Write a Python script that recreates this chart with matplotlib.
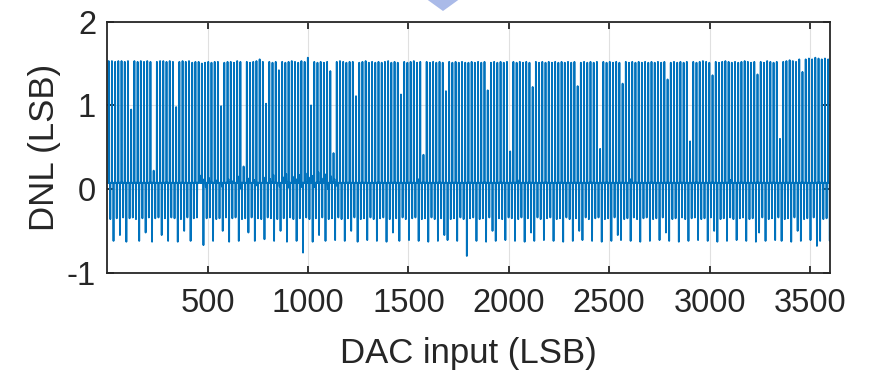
import numpy as np
import matplotlib
matplotlib.use('Agg')
import matplotlib.pyplot as plt
from matplotlib.patches import Polygon

plt.rcParams['font.family'] = ['Liberation Sans', 'DejaVu Sans']
plt.rcParams['axes.unicode_minus'] = False

# DAC codes shown on the x axis
n_codes = 3600
baseline = 0.075

# positive DNL spikes, one per 16-code segment (LSB)
up_first = 7
up_step = 16
up_vals = [
    1.53, 1.53, 1.52, 1.53, 1.53, 1.52, 1.53, 0.95, 1.53, 1.52, 1.53, 1.52, 1.53, 1.52,
    0.22, 1.52, 1.53, 1.53, 1.52, 1.53, 1.52, 0.98, 1.52, 1.53, 1.52, 1.53, 1.51, 1.52,
    1.52, 1.50, 1.51, 1.52, 1.51, 1.52, 1.52, 0.99, 1.51, 1.52, 1.52, 1.51, 1.53, 1.52,
    0.27, 1.52, 1.51, 1.52, 1.53, 1.55, 1.52, 1.02, 1.52, 1.51, 1.52, 1.42, 1.52, 1.51,
    1.52, 1.53, 1.52, 1.51, 1.53, 1.52, 1.57, 1.00, 1.52, 1.51, 1.52, 1.51, 1.52, 1.41,
    0.43, 1.52, 1.53, 1.52, 1.51, 1.52, 1.52, 1.11, 1.51, 1.52, 1.53, 1.51, 1.52, 1.51,
    1.52, 1.51, 1.52, 1.53, 1.51, 1.52, 1.51, 1.13, 1.52, 1.51, 1.52, 1.53, 1.51, 1.52,
    0.41, 1.52, 1.51, 1.52, 1.51, 1.52, 1.51, 1.17, 1.52, 1.51, 1.52, 1.51, 1.52, 1.51,
    1.51, 1.52, 1.51, 1.52, 1.51, 1.52, 1.18, 1.51, 1.52, 1.51, 1.52, 1.51, 1.52, 0.45,
    1.52, 1.51, 1.52, 1.51, 1.52, 1.51, 1.22, 1.52, 1.51, 1.52, 1.51, 1.52, 1.51, 1.52,
    1.51, 1.52, 1.51, 1.52, 1.51, 1.52, 1.23, 1.51, 1.52, 1.51, 1.52, 1.51, 1.52, 0.48,
    1.52, 1.51, 1.52, 1.51, 1.52, 1.51, 1.26, 1.52, 1.51, 1.52, 1.51, 1.52, 1.51, 1.52,
    1.51, 1.52, 1.51, 1.52, 1.51, 1.52, 1.31, 1.51, 1.52, 1.51, 1.52, 1.51, 1.52, 0.57,
    1.52, 1.51, 1.52, 1.53, 1.52, 1.51, 1.36, 1.52, 1.51, 1.52, 1.53, 1.52, 1.51, 1.52,
    1.51, 1.52, 1.53, 1.52, 1.51, 1.52, 1.37, 1.52, 1.51, 1.53, 1.52, 1.51, 1.52, 0.60,
    1.52, 1.53, 1.54, 1.53, 1.52, 1.55, 1.40, 1.55, 1.56, 1.55, 1.57, 1.56, 1.55, 1.56,
    1.55,
]

# negative DNL spikes, one per 16-code segment (LSB)
down_first = 15
down_step = 16
down_vals = [
    -0.36, -0.62, -0.35, -0.55, -0.34, -0.63, -0.35, -0.34, -0.36, -0.62, -0.35, -0.52, -0.34, -0.63,
    -0.35, -0.34, -0.55, -0.35, -0.62, -0.34, -0.35, -0.63, -0.36, -0.50, -0.34, -0.62, -0.35, -0.34,
    -0.82, -0.67, -0.35, -0.34, -0.62, -0.36, -0.35, -0.50, -0.34, -0.63, -0.35, -0.34, -0.62, -0.36,
    -0.35, -0.52, -0.34, -0.62, -0.35, -0.36, -0.60, -0.34, -0.35, -0.62, -0.36, -0.50, -0.35, -0.63,
    -0.34, -0.36, -0.62, -0.35, -0.76, -0.34, -0.36, -0.63, -0.35, -0.55, -0.34, -0.62, -0.36, -0.35,
    -0.61, -0.34, -0.36, -0.62, -0.35, -0.50, -0.34, -0.63, -0.36, -0.35, -0.61, -0.34, -0.36, -0.62,
    -0.35, -0.34, -0.63, -0.36, -0.52, -0.35, -0.62, -0.34, -0.36, -0.61, -0.35, -0.34, -0.62, -0.36,
    -0.35, -0.63, -0.34, -0.36, -0.62, -0.35, -0.55, -0.61, -0.36, -0.35, -0.62, -0.34, -0.36, -0.80,
    -0.35, -0.34, -0.62, -0.36, -0.35, -0.63, -0.34, -0.50, -0.62, -0.35, -0.36, -0.61, -0.34, -0.35,
    -0.62, -0.36, -0.34, -0.63, -0.35, -0.52, -0.62, -0.34, -0.36, -0.61, -0.35, -0.34, -0.62, -0.36,
    -0.35, -0.63, -0.34, -0.36, -0.62, -0.35, -0.50, -0.61, -0.34, -0.36, -0.62, -0.35, -0.34, -0.63,
    -0.36, -0.35, -0.62, -0.34, -0.55, -0.61, -0.36, -0.35, -0.62, -0.34, -0.36, -0.63, -0.35, -0.34,
    -0.62, -0.36, -0.35, -0.61, -0.34, -0.52, -0.62, -0.36, -0.35, -0.63, -0.34, -0.36, -0.62, -0.35,
    -0.34, -0.61, -0.36, -0.35, -0.62, -0.34, -0.50, -0.63, -0.36, -0.35, -0.62, -0.34, -0.36, -0.61,
    -0.35, -0.34, -0.62, -0.36, -0.35, -0.63, -0.52, -0.34, -0.62, -0.36, -0.35, -0.61, -0.34, -0.62,
    -0.36, -0.35, -0.63, -0.34, -0.50, -0.62, -0.36, -0.35, -0.61, -0.34, -0.68, -0.62, -0.36, -0.35,
    -0.62,
]

# small ripple on the flat part (code, DNL)
ripple_codes = [463, 475, 491, 507, 539, 571, 603, 619, 651, 667, 699, 731, 747, 779,
                811, 827, 859, 875, 891, 907, 923, 939, 955, 971, 987, 1003, 1019,
                1035, 1051, 1067, 1083, 1099, 1115, 1131, 1147, 1547, 2043, 2603, 3107]
ripple_vals = [0.16, 0.12, 0.02, 0.13, 0.11, 0.03, 0.12, 0.10, 0.15, 0.00, 0.13, 0.11, 0.04, 0.14,
               0.12, 0.17, 0.03, 0.14, 0.18, 0.01, 0.15, 0.12, 0.17, 0.02, 0.19, 0.14, 0.16,
               0.02, 0.20, 0.13, 0.18, 0.00, 0.15, 0.12, 0.03, 0.12, 0.11, 0.12, 0.11]

xticks = [500, 1000, 1500, 2000, 2500, 3000, 3500]
yticks = [-1, 0, 1, 2]

codes = np.arange(1, n_codes + 1)
dnl = np.full(n_codes, baseline)
up_codes = up_first + up_step * np.arange(len(up_vals))
down_codes = down_first + down_step * np.arange(len(down_vals))
dnl[up_codes - 1] = up_vals
dnl[down_codes - 1] = down_vals
dnl[np.array(ripple_codes) - 1] = ripple_vals

fig = plt.figure(figsize=(8.78, 3.76), dpi=100)
ax = fig.add_axes([0.1222, 0.2747, 0.8231, 0.6676])
ax.plot(codes, dnl, color='#0072BD', linewidth=1.3)

ax.set_xlim(0, n_codes)
ax.set_ylim(-1, 2)
ax.set_xticks(xticks)
ax.set_yticks(yticks)
ax.grid(True, color='#E0E0E0', linewidth=0.8)
ax.set_axisbelow(True)
for s in ax.spines.values():
    s.set_color('#262626')
    s.set_linewidth(1.3)
ax.tick_params(direction='in', top=True, right=True, length=5, width=1.3,
               color='#262626', labelcolor='#262626', labelsize=23.5)
ax.tick_params(axis='x', pad=11)
ax.tick_params(axis='y', pad=8)
ax.set_xlabel('DAC input (LSB)', fontsize=25, color='#262626', labelpad=13)
ax.set_ylabel('DNL (LSB)', fontsize=25, color='#262626', labelpad=4)

# arrow head of the neighbouring panel, cut by the top edge
W, H = 878, 376
tri = [(425 / W, 1 + 2 / H), (461 / W, 1 + 2 / H), (443 / W, 1 - 11 / H)]
fig.patches.append(Polygon(tri, closed=True, transform=fig.transFigure,
                           facecolor='#AABAE8', edgecolor='none'))

fig.savefig('out.png', dpi=100)
